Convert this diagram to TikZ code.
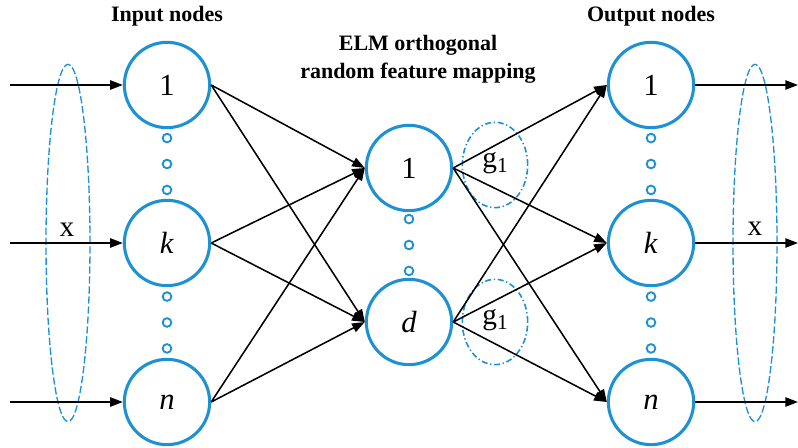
\documentclass[tikz,border=0pt]{standalone}
\usepackage{fontspec}
\setmainfont{Liberation Serif}
\usetikzlibrary{positioning,calc,arrows.meta}
\definecolor{elmblue}{RGB}{30,145,210}

\begin{document}
\begin{tikzpicture}[x=0.75pt,y=-0.75pt,line width=1.15pt,
	>={Triangle[length=9.5pt,width=7pt]},
	neuron/.style={circle,draw=elmblue,line width=2.3pt,minimum size=64pt,inner sep=0pt,
		font=\fontsize{23}{23}\selectfont},
	gap/.style={circle,draw=elmblue,line width=1.4pt,minimum size=6.5pt,inner sep=0pt},
	heading/.style={font=\bfseries\fontsize{16.5}{21}\selectfont,align=center},
	lbl/.style={font=\fontsize{22}{22}\selectfont}]
	\useasboundingbox (0,0) rectangle (798,448);

	% input layer
	\node[neuron] (in1) at (167,85) {1};
	\node[neuron] (ink) at (167,243) {\textit{k}};
	\node[neuron] (inn) at (167,402) {\textit{n}};
	% hidden (feature mapping) layer
	\node[neuron] (h1) at (409,168) {1};
	\node[neuron] (hd) at (409,322) {\textit{d}};
	% output layer
	\node[neuron] (out1) at (651,85) {1};
	\node[neuron] (outk) at (651,243) {\textit{k}};
	\node[neuron] (outn) at (651,402) {\textit{n}};

	% the three little circles between neurons
	\foreach \a/\b in {in1/ink,ink/inn,out1/outk,outk/outn,h1/hd}{
		\node[gap] (\a-m) at ($(\a)!0.5!(\b)$) {};
		\node[gap,above=15.5pt of \a-m,anchor=center] {};
		\node[gap,below=15.5pt of \a-m,anchor=center] {};
	}

	% headings
	\node[heading] (tin) at (167,16) {Input nodes};
	\node[heading] (tmid) at (418,59) {ELM orthogonal\\random feature mapping};
	\node[heading] (tout) at (651,16) {Output nodes};

	% grouping of the input and output vectors
	\draw[elmblue,line width=1pt,dash pattern=on 5.5pt off 2pt] (68,243) ellipse [x radius=16.5pt,y radius=134pt];
	\draw[elmblue,line width=1pt,dash pattern=on 5.5pt off 2pt] (755,243) ellipse [x radius=16.5pt,y radius=134pt];
	\node[lbl] (xin) at (67,230) {x};
	\node[lbl] (xout) at (755,229) {x};

	% activation g_1
	\draw[elmblue,line width=1.2pt,dash pattern=on 4.5pt off 2pt on 1pt off 2pt] (495,165) ellipse [x radius=24.5pt,y radius=32pt];
	\draw[elmblue,line width=1.2pt,dash pattern=on 4.5pt off 2pt on 1pt off 2pt] (495,322) ellipse [x radius=24.5pt,y radius=32pt];
	\node[lbl] (g1a) at (495,163) {g\raisebox{-0.35ex}{\fontsize{16}{16}\selectfont 1}};
	\node[lbl] (g1b) at (495,320) {g\raisebox{-0.35ex}{\fontsize{16}{16}\selectfont 1}};

	% inputs and outputs
	\foreach \n/\y in {1/85,k/243,n/402}{
		\coordinate (src\n) at (10,\y);
		\coordinate (dst\n) at (798,\y);
		\draw[->] (src\n) -- (in\n.west);
		\draw[->] (out\n.east) -- (dst\n);
	}

	% connections
	\foreach \i in {in1,ink,inn}
		\foreach \h in {h1,hd}
			\draw[->] (\i.east) -- (\h.west);
	\foreach \h in {h1,hd}
		\foreach \o in {out1,outk,outn}
			\draw[->] (\h.east) -- (\o.west);
\end{tikzpicture}
\end{document}
